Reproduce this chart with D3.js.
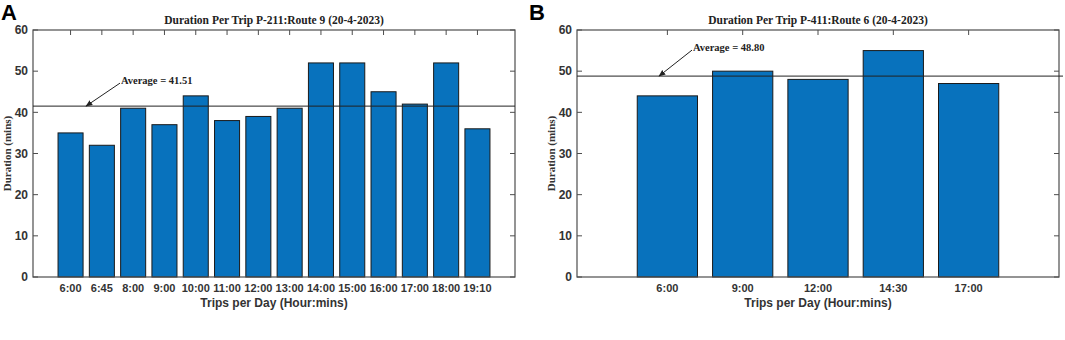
<!DOCTYPE html>
<html>
<head>
<meta charset="utf-8">
<script src="https://cdn.jsdelivr.net/npm/d3@7"></script>
<style>
  body { margin: 0; background: #fff; }
  svg { display: block; }
</style>
</head>
<body>
<svg id="chart" width="1065" height="340"></svg>
<script>
// Panel A data
const tripsA = ["6:00", "6:45", "8:00", "9:00", "10:00", "11:00", "12:00", "13:00", "14:00", "15:00", "16:00", "17:00", "18:00", "19:10"];
const durationA = [35, 32, 41, 37, 44, 38, 39, 41, 52, 52, 45, 42, 52, 36];
const averageA = 41.51;

// Panel B data
const tripsB = ["6:00", "9:00", "12:00", "14:30", "17:00"];
const durationB = [44, 50, 48, 55, 47];
const averageB = 48.80;

const yTicks = [0, 10, 20, 30, 40, 50, 60];

const svg = d3.select("#chart");
const serif = "'Liberation Serif', 'Times New Roman', serif";
const sans = "'Liberation Sans', Arial, sans-serif";
const axisColor = "#4d4d4d";
const textColor = "#333";

function drawPanel(cfg) {
  const { left, right, top, bottom } = cfg;
  const g = svg.append("g");

  const x = d3.scaleBand().domain(cfg.trips).range([left, right])
    .paddingInner(0.2).paddingOuter(0.8);
  const y = d3.scaleLinear().domain([0, 60]).range([bottom, top]);

  // bars
  g.selectAll(".bar")
    .data(cfg.trips.map((t, i) => ({ trip: t, value: cfg.values[i] })))
    .enter()
    .append("rect")
    .attr("class", "bar")
    .attr("x", d => x(d.trip))
    .attr("width", x.bandwidth())
    .attr("y", d => y(d.value))
    .attr("height", d => y(0) - y(d.value))
    .attr("fill", "#0872bd")
    .attr("stroke", "#1a1a1a")
    .attr("stroke-width", 1);

  // frame
  g.append("rect")
    .attr("x", left).attr("y", top)
    .attr("width", right - left).attr("height", bottom - top)
    .attr("fill", "none")
    .attr("stroke", axisColor)
    .attr("stroke-width", 1.2);

  // y ticks (left, right) pointing inward
  g.selectAll(".ytl")
    .data(yTicks).enter().append("line")
    .attr("x1", left).attr("x2", left + 5)
    .attr("y1", d => y(d)).attr("y2", d => y(d))
    .attr("stroke", axisColor);
  g.selectAll(".ytr")
    .data(yTicks).enter().append("line")
    .attr("x1", right).attr("x2", right - 5)
    .attr("y1", d => y(d)).attr("y2", d => y(d))
    .attr("stroke", axisColor);

  // x ticks on top, pointing inward
  g.selectAll(".xtt")
    .data(cfg.trips).enter().append("line")
    .attr("x1", d => x(d) + x.bandwidth() / 2)
    .attr("x2", d => x(d) + x.bandwidth() / 2)
    .attr("y1", top).attr("y2", top + 5)
    .attr("stroke", axisColor);

  // y tick labels
  g.selectAll(".ylab")
    .data(yTicks).enter().append("text")
    .attr("x", left - 5)
    .attr("y", d => y(d))
    .attr("dy", "0.35em")
    .attr("text-anchor", "end")
    .attr("font-family", sans)
    .attr("font-weight", "bold")
    .attr("font-size", 12)
    .attr("fill", textColor)
    .text(d => d);

  // x tick labels
  g.selectAll(".xlab")
    .data(cfg.trips).enter().append("text")
    .attr("x", d => x(d) + x.bandwidth() / 2)
    .attr("y", bottom + 15)
    .attr("text-anchor", "middle")
    .attr("font-family", sans)
    .attr("font-weight", "bold")
    .attr("font-size", 11)
    .attr("fill", textColor)
    .text(d => d);

  // axis titles
  g.append("text")
    .attr("x", (left + right) / 2)
    .attr("y", bottom + 30)
    .attr("text-anchor", "middle")
    .attr("font-family", sans)
    .attr("font-weight", "bold")
    .attr("font-size", 12)
    .attr("fill", textColor)
    .text("Trips per Day (Hour:mins)");

  g.append("text")
    .attr("transform", `translate(${left - 22},${(top + bottom) / 2}) rotate(-90)`)
    .attr("text-anchor", "middle")
    .attr("font-family", serif)
    .attr("font-weight", "bold")
    .attr("font-size", 11)
    .attr("fill", textColor)
    .text("Duration (mins)");

  // title
  g.append("text")
    .attr("x", (left + right) / 2)
    .attr("y", top - 6)
    .attr("text-anchor", "middle")
    .attr("font-family", serif)
    .attr("font-weight", "bold")
    .attr("font-size", 11.5)
    .attr("fill", "#222")
    .text(cfg.title);

  // average line
  g.append("line")
    .attr("x1", left).attr("x2", right + cfg.lineExtra)
    .attr("y1", y(cfg.average)).attr("y2", y(cfg.average))
    .attr("stroke", "#222")
    .attr("stroke-width", 1);

  // annotation with arrow
  const tipX = left + cfg.tipOffset;
  const tipY = y(cfg.average);
  const tailX = tipX + cfg.arrowDx;
  const tailY = tipY + cfg.arrowDy;
  g.append("line")
    .attr("x1", tailX).attr("y1", tailY)
    .attr("x2", tipX).attr("y2", tipY)
    .attr("stroke", "#222")
    .attr("stroke-width", 1)
    .attr("marker-end", "url(#arrow)");
  g.append("text")
    .attr("x", tailX + 1)
    .attr("y", tailY + 1)
    .attr("font-family", serif)
    .attr("font-weight", "bold")
    .attr("font-size", 10.5)
    .attr("fill", "#222")
    .text(`Average = ${cfg.average.toFixed(2)}`);

  // panel letter
  svg.append("text")
    .attr("x", cfg.letterX)
    .attr("y", 20)
    .attr("font-family", sans)
    .attr("font-weight", "bold")
    .attr("font-size", 22)
    .attr("fill", "#000")
    .text(cfg.letter);
}

svg.append("defs").append("marker")
  .attr("id", "arrow")
  .attr("viewBox", "0 0 10 10")
  .attr("refX", 9).attr("refY", 5)
  .attr("markerWidth", 7).attr("markerHeight", 7)
  .attr("markerUnits", "userSpaceOnUse")
  .attr("orient", "auto")
  .append("path")
  .attr("d", "M0,1 L10,5 L0,9 Z")
  .attr("fill", "#222");

drawPanel({
  letter: "A", letterX: 1,
  left: 33, right: 515, top: 30, bottom: 277,
  trips: tripsA, values: durationA, average: averageA,
  title: "Duration Per Trip P-211:Route 9 (20-4-2023)",
  tipOffset: 53, arrowDx: 34, arrowDy: -23, lineExtra: 0
});

drawPanel({
  letter: "B", letterX: 529,
  left: 577, right: 1059, top: 30, bottom: 277,
  trips: tripsB, values: durationB, average: averageB,
  title: "Duration Per Trip P-411:Route 6 (20-4-2023)",
  tipOffset: 82, arrowDx: 33, arrowDy: -26, lineExtra: 4
});
</script>
</body>
</html>
